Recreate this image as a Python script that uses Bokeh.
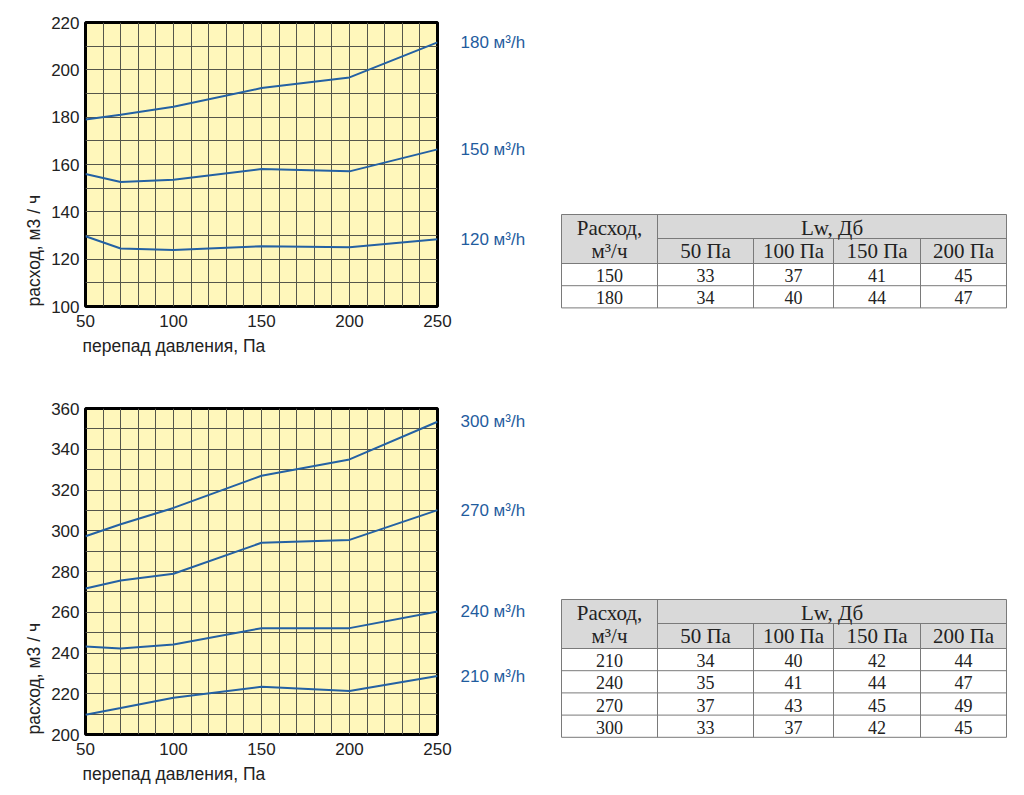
from bokeh.plotting import figure
from bokeh.models import Range1d, FixedTicker, LinearAxis, Title
from bokeh.layouts import column, row
from bokeh.embed import file_html
from bokeh.resources import INLINE

# ---------------- data ----------------
pressure = [50, 70, 100, 150, 200, 250]

top_names = ["180 м³/h", "150 м³/h", "120 м³/h"]
flow_180 = [179.0, 181.0, 184.4, 192.3, 196.8, 211.6]
flow_150 = [156.0, 152.6, 153.6, 158.1, 157.1, 166.4]
flow_120 = [129.7, 124.5, 123.9, 125.5, 125.0, 128.4]

bottom_names = ["300 м³/h", "270 м³/h", "240 м³/h", "210 м³/h"]
flow_300 = [297.3, 303.2, 311.2, 327.0, 335.0, 353.5]
flow_270 = [271.7, 275.6, 278.9, 294.1, 295.5, 310.1]
flow_240 = [243.2, 242.2, 244.2, 252.2, 252.2, 260.4]
flow_210 = [209.7, 213.0, 218.0, 223.4, 221.3, 228.7]

x_ticks = [50, 100, 150, 200, 250]
x_grid = [50, 60, 70, 80, 90, 100, 110, 120, 130, 140, 150, 160, 170, 180, 190, 200, 210, 220, 230, 240, 250]
top_y_ticks = [100, 120, 140, 160, 180, 200, 220]
top_y_grid = [100, 110, 120, 130, 140, 150, 160, 170, 180, 190, 200, 210, 220]
bottom_y_ticks = [200, 220, 240, 260, 280, 300, 320, 340, 360]
bottom_y_grid = [200, 210, 220, 230, 240, 250, 260, 270, 280, 290, 300, 310, 320, 330, 340, 350, 360]

x_title = "перепад давления, Па"
y_title = "расход, м3 / ч"

table_head_flow = ["Расход,", "м³/ч"]
table_head_lw = "Lw, Дб"
table_columns = ["50 Па", "100 Па", "150 Па", "200 Па"]
table1_flows = ["150", "180"]
table1_lw = [[33, 37, 41, 45], [34, 40, 44, 47]]
table2_flows = ["210", "240", "270", "300"]
table2_lw = [[34, 40, 42, 44], [35, 41, 44, 47], [37, 43, 45, 49], [33, 37, 42, 45]]

# ---------------- style ----------------
LINE_BLUE = "#2461A3"
LABEL_BLUE = "#1F5C9E"
YELLOW = "#FFF7BB"
GRID = "#56564a"
TXT = "#222222"
SANS = "Liberation Sans"
SERIF = "Liberation Serif"


def make_chart(series, names, y_ticks, y_grid, w, h, bl, bt, br, bb):
    p = figure(width=w, height=h,
               x_range=Range1d(x_ticks[0], x_ticks[-1]),
               y_range=Range1d(y_ticks[0], y_ticks[-1]),
               min_border_left=bl, min_border_top=bt, min_border_right=br, min_border_bottom=bb,
               toolbar_location=None, output_backend="svg")
    p.background_fill_color = YELLOW
    p.border_fill_color = "white"
    p.outline_line_color = "black"
    p.outline_line_width = 3

    p.xgrid.ticker = FixedTicker(ticks=x_grid)
    p.ygrid.ticker = FixedTicker(ticks=y_grid)
    p.grid.grid_line_color = GRID
    p.grid.grid_line_width = 1

    p.xaxis.ticker = FixedTicker(ticks=x_ticks)
    p.yaxis.ticker = FixedTicker(ticks=y_ticks)

    ends = [ys[-1] for ys in series]
    right = LinearAxis(ticker=FixedTicker(ticks=ends),
                       major_label_overrides={e: n for e, n in zip(ends, names)})
    p.add_layout(right, "right")

    p.axis.axis_line_color = None
    p.axis.major_tick_line_color = None
    p.axis.major_tick_out = 0
    p.axis.major_tick_in = 0
    p.axis.minor_tick_line_color = None
    p.axis.minor_tick_out = 0
    p.axis.major_label_text_font = SANS
    p.axis.major_label_text_font_size = "17px"
    p.axis.major_label_text_color = TXT
    p.xaxis.major_label_standoff = 8
    p.yaxis.major_label_standoff = 6
    right.major_label_standoff = 23
    right.major_label_text_color = LABEL_BLUE

    tx = Title(text=x_title, align="left", offset=-3, standoff=8,
               text_font=SANS, text_font_size="17.5px", text_font_style="normal", text_color=TXT)
    p.add_layout(tx, "below")
    ty = Title(text=y_title, align="left", offset=0, standoff=9,
               text_font=SANS, text_font_size="17.5px", text_font_style="normal", text_color=TXT)
    p.add_layout(ty, "left")

    for ys in series:
        p.line(pressure, ys, line_color=LINE_BLUE, line_width=2)
    return p


def make_table(flows, lw, fig_h, top):
    W = 484
    t = figure(width=W, height=fig_h, x_range=Range1d(0, W), y_range=Range1d(fig_h, 0),
               x_axis_location=None, y_axis_location=None, min_border=0,
               toolbar_location=None, output_backend="svg")
    t.grid.visible = False
    t.outline_line_color = None
    t.background_fill_color = "white"

    edges = [21, 117, 213, 293, 380, 466]
    h1, h2, rh = 24, 25, 22.2
    n = len(flows)
    head_bot = top + h1 + h2
    bottom = head_bot + n * rh

    t.quad(left=edges[0], right=edges[-1], top=top, bottom=head_bot,
           fill_color="#D9D9D9", line_color=None)

    sx0 = [edges[0], edges[0], edges[0], edges[-1], edges[1], edges[0], edges[1]]
    sx1 = [edges[-1], edges[-1], edges[0], edges[-1], edges[-1], edges[-1], edges[1]]
    sy0 = [top, bottom, top, top, top + h1, head_bot, top]
    sy1 = [top, bottom, bottom, bottom, top + h1, head_bot, bottom]
    for e in edges[2:-1]:
        sx0.append(e); sx1.append(e); sy0.append(top + h1); sy1.append(bottom)
    for i in range(1, n):
        yy = head_bot + i * rh
        sx0.append(edges[0]); sx1.append(edges[-1]); sy0.append(yy); sy1.append(yy)
    t.segment(x0=sx0, y0=sy0, x1=sx1, y1=sy1, line_color="#7a7a7a", line_width=1)

    cx0 = (edges[0] + edges[1]) / 2
    t.text(x=[cx0, cx0], y=[top + h1 / 2 + 1, top + h1 + h2 / 2],
           text=table_head_flow, text_align="center", text_baseline="middle",
           text_font={"value": SERIF}, text_font_size="21px", text_color=TXT)
    t.text(x=[(edges[1] + edges[-1]) / 2], y=[top + h1 / 2 + 1], text=[table_head_lw],
           text_align="center", text_baseline="middle",
           text_font={"value": SERIF}, text_font_size="21px", text_color=TXT)
    t.text(x=[(edges[i] + edges[i + 1]) / 2 for i in range(1, 5)],
           y=[top + h1 + h2 / 2] * 4, text=table_columns,
           text_align="center", text_baseline="middle",
           text_font={"value": SERIF}, text_font_size="21px", text_color=TXT)

    bx, by, bt = [], [], []
    for r, (f, vals) in enumerate(zip(flows, lw)):
        yy = head_bot + r * rh + rh / 2 + 1
        bx.append(cx0); by.append(yy); bt.append(f)
        for c, v in enumerate(vals):
            bx.append((edges[c + 1] + edges[c + 2]) / 2); by.append(yy); bt.append(str(v))
    t.text(x=bx, y=by, text=bt, text_align="center", text_baseline="middle",
           text_font={"value": SERIF}, text_font_size="18px", text_color=TXT)
    return t


c1 = make_chart([flow_180, flow_150, flow_120], top_names, top_y_ticks, top_y_grid,
                w=540, h=388, bl=85, bt=22, br=103, bb=82)
t1 = make_table(table1_flows, table1_lw, 388, 214)
c2 = make_chart([flow_300, flow_270, flow_240, flow_210], bottom_names, bottom_y_ticks, bottom_y_grid,
                w=540, h=404, bl=85, bt=20, br=103, bb=58)
t2 = make_table(table2_flows, table2_lw, 404, 211)

layout = row(column(c1, c2), column(t1, t2))
open("out.html", "w").write(file_html(layout, INLINE))
